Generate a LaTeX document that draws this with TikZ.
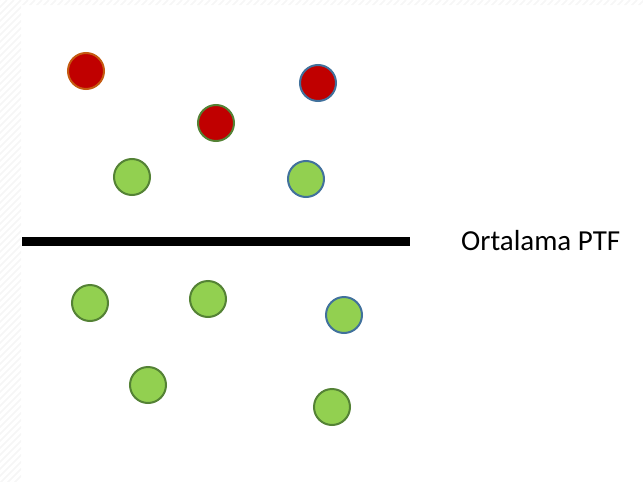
\documentclass[tikz,border=0pt]{standalone}
\usepackage{fontspec}
\setmainfont{Carlito}
\usetikzlibrary{positioning}
\definecolor{ptfred}{HTML}{C00000}
\definecolor{ptfgreen}{HTML}{92D050}
\definecolor{rimgreen}{HTML}{548235}
\definecolor{rimblue}{HTML}{41719C}
\definecolor{rimbrown}{HTML}{C55A11}
\tikzset{
  dot/.style={circle, minimum size=36pt, inner sep=0pt, line width=2pt},
  avgline/.style={line width=9pt},
}
\begin{document}
\begin{tikzpicture}[x=1pt,y=-1pt]
  \useasboundingbox (0,0) rectangle (643,482);
  % faint hatched margin
  \begin{scope}
    \clip (0,0) rectangle (21,482) (0,0) rectangle (643,5);
    \foreach \k in {-30,...,180}
      \draw[gray!7, line width=1.5pt] (7*\k-500,500) -- (7*\k,0);
  \end{scope}

  % prices above and below the average
  \foreach \x/\y/\f/\r [count=\i] in {
      86/71/ptfred/rimbrown, 216/123/ptfred/rimgreen, 318/83/ptfred/rimblue,
      132/177/ptfgreen/rimgreen, 306/179/ptfgreen/rimblue,
      90/303/ptfgreen/rimgreen, 208/299/ptfgreen/rimgreen, 344/315/ptfgreen/rimblue,
      148/385/ptfgreen/rimgreen, 332/407/ptfgreen/rimgreen} {
    \node[dot, fill=\f, draw=\r] (p\i) at (\x,\y) {};
  }

  \coordinate (lineL) at (22,241);
  \coordinate (lineR) at (410,241);
  \draw[avgline] (lineL) -- (lineR);
  \node[anchor=west, inner sep=0pt, font=\fontsize{29}{34}\selectfont, right=51pt of lineR] (avg) {Ortalama PTF};
\end{tikzpicture}
\end{document}
